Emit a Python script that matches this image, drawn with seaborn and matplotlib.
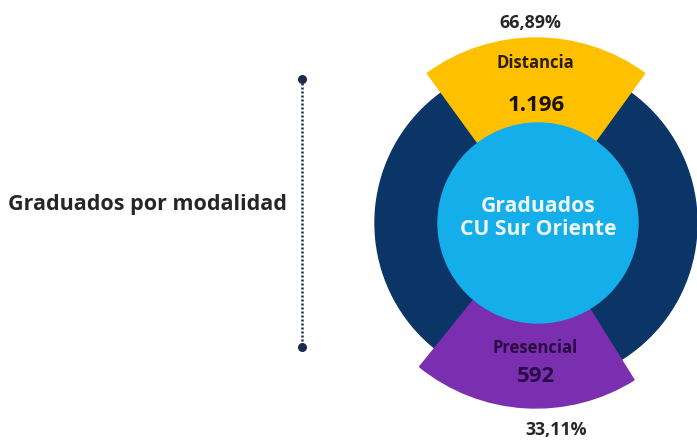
import matplotlib
matplotlib.use("Agg")
import matplotlib.pyplot as plt
from matplotlib.patches import Circle, Wedge
import pandas as pd
import seaborn as sns

# data
modalidades = ["Distancia", "Presencial"]
graduados = [1196, 592]
porcentajes = ["66,89%", "33,11%"]
titulo = "Graduados por modalidad"
centro_txt = "Graduados\nCU Sur Oriente"

NAVY = "#0b3467"
YELLOW = "#ffc000"
PURPLE = "#7a2fb0"
LIGHT_BLUE = "#14aeea"
DARK_TXT = "#262626"

W, H = 697, 440
CX, CY = 536, 440 - 223


def fmt_num(v: int) -> str:
    return f"{v:,}".replace(",", ".")


sns.set_theme(style="white")
plt.rcParams["font.family"] = ["Open Sans", "DejaVu Sans"]

fig = plt.figure(figsize=(W / 100, H / 100), dpi=100)
ax = fig.add_axes([0, 0, 1, 1])
ax.set_xlim(0, W)
ax.set_ylim(0, H)
ax.set_aspect("equal")
ax.axis("off")

# ring + sectors
ax.add_patch(Circle((CX, CY), 161, color=NAVY, zorder=1))
sectors = {
    "Distancia": dict(theta1=54, theta2=126, color=YELLOW),
    "Presencial": dict(theta1=231, theta2=302, color=PURPLE),
}
for name in modalidades:
    s = sectors[name]
    ax.add_patch(Wedge((CX, CY), 185, s["theta1"], s["theta2"], color=s["color"], zorder=2))
ax.add_patch(Circle((CX + 2, CY), 100, color=LIGHT_BLUE, zorder=3))

ax.text(CX + 2, CY + 5, centro_txt, ha="center", va="center", fontsize=15.2,
        fontweight="bold", color="#eef7fc", linespacing=1.1, zorder=4)

# labels inside sectors
label_pos = {
    "Distancia": dict(name_y=440 - 63, val_y=440 - 105, pct=(530, 440 - 23),
                      name_col="#2b1d00", val_col="#1a1200"),
    "Presencial": dict(name_y=440 - 348, val_y=440 - 377, pct=(556, 440 - 430),
                       name_col="#2a0a45", val_col="#2a0a45"),
}
for name, val, pct in zip(modalidades, graduados, porcentajes):
    p = label_pos[name]
    ax.text(CX - 1, p["name_y"], name, ha="center", va="center", fontsize=12,
            fontweight="bold", color=p["name_col"], zorder=5)
    ax.text(CX, p["val_y"], fmt_num(val), ha="center", va="center", fontsize=16,
            fontweight="bold", color=p["val_col"], zorder=5)
    ax.text(p["pct"][0], p["pct"][1], pct, ha="center", va="center", fontsize=12.8,
            fontweight="bold", color=DARK_TXT, zorder=5)

# dotted connector
conector = pd.DataFrame({"x": [302, 302], "y": [440 - 79, 440 - 347]})
sns.lineplot(data=conector, x="x", y="y", ax=ax, color="#1c2a4f", linestyle=(0, (0.8, 0.8)),
             linewidth=1.8, sort=False, estimator=None)
ax.scatter(conector["x"], conector["y"], s=30, color="#1c2a4f", zorder=6)
ax.set_xlabel("")
ax.set_ylabel("")

ax.text(147, 440 - 204, titulo, ha="center", va="center", fontsize=15.5,
        fontweight="bold", color=DARK_TXT)

fig.savefig("out.png", dpi=100, facecolor="white")
